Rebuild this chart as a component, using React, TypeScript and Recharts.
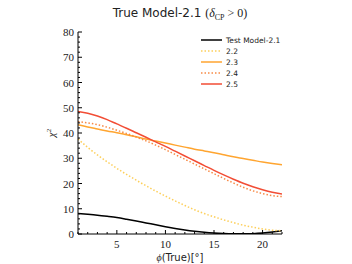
import React from 'react';
import { LineChart, Line, XAxis, YAxis } from 'recharts';

const phi = [1, 2, 3, 4, 5, 6, 7, 8, 9, 10, 11, 12, 13, 14, 15, 16, 17, 18, 19, 20, 21, 22];
const test21 = [8.1, 7.8, 7.45, 7.0, 6.5, 5.85, 5.15, 4.4, 3.65, 2.9, 2.2, 1.6, 1.1, 0.7, 0.4, 0.2, 0.08, 0.05, 0.12, 0.35, 0.75, 1.3];
const m22 = [37.6, 34.3, 31.3, 28.6, 26.0, 23.6, 21.3, 19.1, 17.0, 15.0, 13.1, 11.3, 9.6, 8.1, 6.8, 5.6, 4.5, 3.5, 2.7, 2.0, 1.5, 1.3];
const m23 = [43.3, 42.4, 41.6, 40.8, 40.1, 39.3, 38.5, 37.6, 36.8, 36.0, 35.2, 34.4, 33.6, 32.9, 32.2, 31.4, 30.6, 29.9, 29.2, 28.5, 27.9, 27.4];
const m24 = [44.5, 44.0, 43.3, 42.3, 41.1, 39.8, 38.4, 36.9, 35.2, 33.4, 31.5, 29.6, 27.7, 25.8, 23.9, 22.0, 20.2, 18.5, 17.1, 16.0, 15.2, 14.8];
const m25 = [48.5, 47.8, 46.7, 45.3, 43.6, 41.9, 40.1, 38.3, 36.5, 34.7, 32.8, 30.9, 29.0, 27.1, 25.2, 23.4, 21.7, 20.1, 18.7, 17.5, 16.5, 15.8];

const xTicks = [1, 2, 3, 4, 5, 6, 7, 8, 9, 10, 11, 12, 13, 14, 15, 16, 17, 18, 19, 20, 21, 22];
const yTicks = [0, 2, 4, 6, 8, 10, 12, 14, 16, 18, 20, 22, 24, 26, 28, 30, 32, 34, 36, 38, 40, 42, 44, 46, 48, 50, 52, 54, 56, 58, 60, 62, 64, 66, 68, 70, 72, 74, 76, 78, 80];

const series = [
  { key: 'test21', name: 'Test Model-2.1', color: '#000000', dash: undefined, values: test21 },
  { key: 'm22', name: '2.2', color: '#fdcf5a', dash: '1.5 2', values: m22 },
  { key: 'm23', name: '2.3', color: '#ffa530', dash: undefined, values: m23 },
  { key: 'm24', name: '2.4', color: '#f88a45', dash: '1.5 2', values: m24 },
  { key: 'm25', name: '2.5', color: '#f24d35', dash: undefined, values: m25 },
];

const data = phi.map((p, i) => {
  const row: any = { phi: p };
  series.forEach((s) => { row[s.key] = s.values[i]; });
  return row;
});

const serif = '"Liberation Serif", "DejaVu Serif", serif';
const sans = '"DejaVu Sans", sans-serif';

const XTick = (props: any) => {
  const { x, y, payload } = props;
  const major = payload.value % 5 === 0;
  return (
    <g>
      <line x1={x} x2={x} y1={y} y2={y - (major ? 4 : 2)} stroke="#000" strokeWidth={1} />
      {major && (
        <text x={x} y={y + 14} textAnchor="middle" fontFamily={serif} fontSize={11} fill="#222">
          {payload.value}
        </text>
      )}
    </g>
  );
};

const YTick = (props: any) => {
  const { x, y, payload } = props;
  const major = payload.value % 10 === 0;
  return (
    <g>
      <line x1={x} x2={x + (major ? 4 : 2)} y1={y} y2={y} stroke="#000" strokeWidth={1} />
      {major && (
        <text x={x - 4} y={y + 4} textAnchor="end" fontFamily={serif} fontSize={11} fill="#222">
          {payload.value}
        </text>
      )}
    </g>
  );
};

export default function App() {
  return (
    <div style={{ position: 'absolute', left: 0, top: 0, width: 352, height: 264, background: '#fff' }}>
      <div style={{ position: 'absolute', left: 0, top: 0 }}>
        <LineChart width={352} height={264} data={data} margin={{ top: 32, right: 70, bottom: 0, left: 48 }}>
          <XAxis
            xAxisId="b"
            dataKey="phi"
            type="number"
            domain={[1, 22]}
            ticks={xTicks}
            interval={0}
            tick={<XTick />}
            tickLine={false}
            tickSize={0}
            tickMargin={0}
            height={30}
            axisLine={{ stroke: '#000', strokeWidth: 1 }}
            allowDataOverflow
          />
          <XAxis xAxisId="t" orientation="top" dataKey="phi" type="number" domain={[1, 22]} tick={false} tickLine={false} height={0} axisLine={{ stroke: '#000', strokeWidth: 1 }} />
          <YAxis
            yAxisId="l"
            type="number"
            domain={[0, 80]}
            ticks={yTicks}
            interval={0}
            tick={<YTick />}
            tickLine={false}
            tickSize={0}
            tickMargin={0}
            width={30}
            axisLine={{ stroke: '#000', strokeWidth: 1 }}
            allowDataOverflow
          />
          <YAxis yAxisId="r" orientation="right" type="number" domain={[0, 80]} tick={false} tickLine={false} width={0} axisLine={{ stroke: '#999', strokeWidth: 2 }} />
          {series.map((s) => (
            <Line
              key={s.key}
              xAxisId="b"
              yAxisId="l"
              dataKey={s.key}
              name={s.name}
              type="monotone"
              stroke={s.color}
              strokeWidth={1.5}
              strokeDasharray={s.dash}
              dot={false}
              isAnimationActive={false}
            />
          ))}
        </LineChart>
      </div>
      <svg width={352} height={264} style={{ position: 'absolute', left: 0, top: 0, pointerEvents: 'none' }}>
        <text x={180} y={17} textAnchor="middle" fontSize={12} fill="#222">
          <tspan fontFamily={sans}>True Model-2.1 </tspan>
          <tspan fontFamily={serif}>(</tspan>
          <tspan fontFamily={serif} fontStyle="italic">δ</tspan>
          <tspan fontFamily={serif} fontSize={8} dy={3}>CP</tspan>
          <tspan fontFamily={serif} dy={-3}> &gt; 0)</tspan>
        </text>
        <text x={180} y={261} textAnchor="middle" fontSize={10} fill="#222">
          <tspan fontFamily={serif} fontStyle="italic">ϕ</tspan>
          <tspan fontFamily={sans}>(True)[°]</tspan>
        </text>
        <text x={55} y={133} textAnchor="middle" fontSize={11} fill="#222" fontFamily={serif} transform="rotate(-90 55 133)">
          <tspan fontStyle="italic">χ</tspan>
          <tspan fontSize={7} dy={-4}>2</tspan>
        </text>
        {series.map((s, i) => (
          <g key={s.key}>
            <line x1={201} x2={222} y1={40 + i * 11} y2={40 + i * 11} stroke={s.color} strokeWidth={1.5} strokeDasharray={s.dash} />
            <text x={226} y={43 + i * 11} fontFamily={sans} fontSize={7.5} fill="#222">{s.name}</text>
          </g>
        ))}
      </svg>
    </div>
  );
}
